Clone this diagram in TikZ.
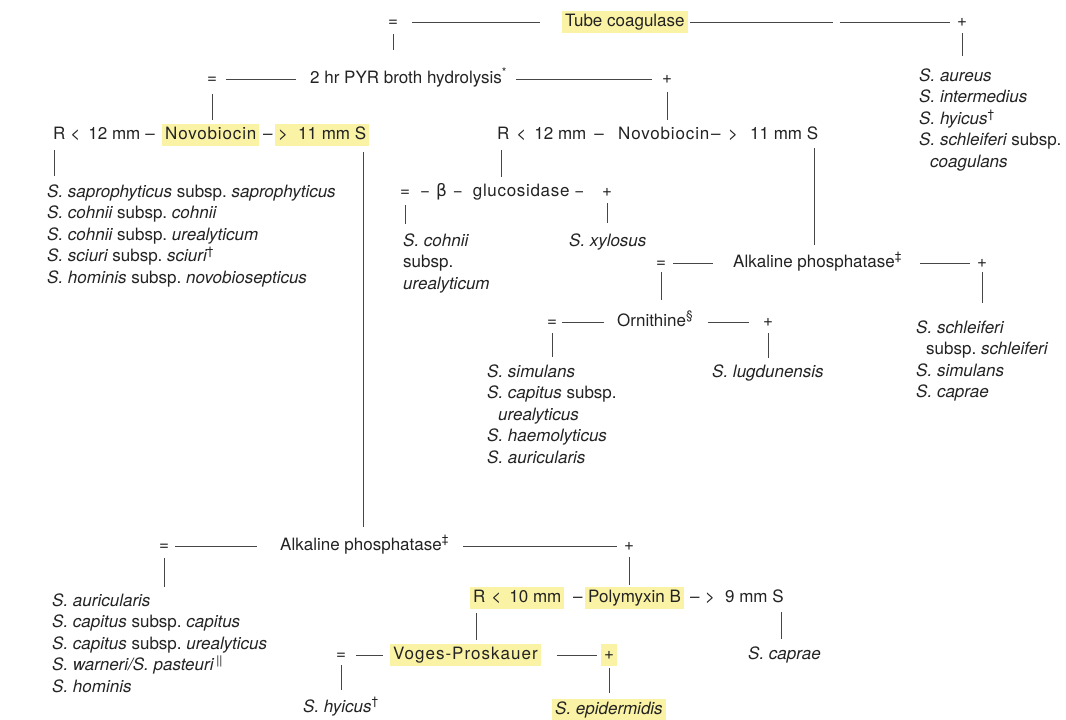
\documentclass[tikz,border=0pt]{standalone}
\usepackage{fontspec}
\setmainfont{TeX Gyre Heros}
\newfontfamily\dvs{DejaVu Sans}
\definecolor{ink}{RGB}{35,35,35}
\definecolor{rulec}{RGB}{70,70,70}
\definecolor{hly}{RGB}{250,242,165}
\newcommand\fs{\fontsize{17}{21.5}\selectfont}
\newcommand\ssp{{\upshape subsp.}}
\newcommand\fst{\rule{0pt}{13pt}}
\begin{document}
\begin{tikzpicture}[x=1pt,y=-1pt,
  every node/.style={inner sep=0pt, text=ink, font=\fs},
  lbl/.style={text height=12.5pt, text depth=4pt, anchor=west},
  itl/.style={lbl, font=\fs\itshape},
  sym/.style={text height=12.5pt, text depth=4pt, anchor=center},
  hl/.style={fill=hly, inner xsep=3pt, inner ysep=2.5pt},
  lst/.style={align=left, anchor=north west, font=\fs\itshape},
  cn/.style={draw=rulec, line width=0.75pt},
]
\fill[white] (0,0) rectangle (1066,720);
\useasboundingbox (0,0) rectangle (1066,720);

% ---- Row 1: Tube coagulase
\node[sym] (eq1) at (393,22) {=};
\node[lbl,hl] (tube) at (562,22) {Tube coagulase};
\node[sym] (plus1) at (962,22) {+};
\draw[cn, shorten <=14pt, shorten >=22pt] (eq1) -- (tube);
\draw[cn, shorten <=2pt, shorten >=7pt, dash pattern=on 143pt off 7pt on 300pt] (tube) -- (plus1);

% ---- Row 2: PYR
\node[sym] (eq2) at (212,79) {=};
\node[lbl] (pyr) at (310,79) {2 hr PYR broth hydrolysis\textsuperscript{*}};
\node[sym] (plus2) at (667,79) {+};
\draw[cn, shorten <=9pt, shorten >=14pt] (eq2) -- (pyr);
\draw[cn, shorten <=9pt, shorten >=10pt] (pyr) -- (plus2);

% ---- coagulase positive list
\node[lst] (aureus) at (919,68.25) {\fst S. aureus\\ S. intermedius\\ S. hyicus\textsuperscript{\upshape †}\\ S. schleiferi \ssp\\ \hspace*{11pt}coagulans};

% ---- Row 3 left: Novobiocin
\node[lbl] (nvLa) at (53,135) {R\hspace{5pt}<\hspace{8pt}12 mm\hspace{5pt}–};
\node[lbl,hl,font=\fs\addfontfeature{LetterSpace=5}] (nvLb) at (162,135) {Novobiocin};
\node[lbl] (nvLc) at (263,135) {–};
\node[lbl,hl] (nvLd) at (275,135) {>\hspace{10pt}11 mm S};

% ---- Row 3 right: Novobiocin
\node[lbl] (nvRa) at (497,135) {R\hspace{7pt}<\hspace{8pt}12 mm\hspace{8pt}–};
\node[lbl,font=\fs\addfontfeature{LetterSpace=5}] (nvRb) at (618,135) {Novobiocin};
\node[lbl] (nvRc) at (711,135) {–};
\node[lbl] (nvRd) at (728,135) {>\hspace{12pt}11 mm S};

% ---- left list
\node[lst] (listL) at (47,184.25) {\fst S. saprophyticus \ssp\ saprophyticus\\ S. cohnii \ssp\ cohnii\\ S. cohnii \ssp\ urealyticum\\ S. sciuri \ssp\ sciuri\textsuperscript{\upshape †}\\ S. hominis \ssp\ novobiosepticus};

% ---- beta-glucosidase
\node[sym] (eq3) at (405,192) {=};
\node[lbl] (beta) at (420,192) {−\hspace{6pt}{\dvs β}\hspace{6pt}−\hspace{10pt}{\addfontfeature{LetterSpace=4}glucosidase}\hspace{5pt}−};
\node[sym] (plus3) at (607,192) {+};
\node[lst] (cohnii) at (403,233.25) {\fst S. cohnii\\ \ssp\\ urealyticum};
\node[itl] (xylosus) at (569,242) {S. xylosus};

% ---- Alkaline phosphatase (right)
\node[sym] (eq4) at (661,263) {=};
\node[lbl] (alk4) at (733,263) {Alkaline phosphatase\textsuperscript{‡}};
\node[sym] (plus4) at (982,263) {+};
\draw[cn, shorten <=7pt, shorten >=20pt] (eq4) -- (alk4);
\draw[cn, shorten <=18pt, shorten >=7pt] (alk4) -- (plus4);
\node[lst] (schleif) at (916,320.25) {\fst S. schleiferi\\ \hspace*{10pt}\ssp\ schleiferi\\ S. simulans\\ S. caprae};

% ---- Ornithine
\node[sym] (eq5) at (552,322) {=};
\node[lbl] (orn) at (617,322) {Ornithine\textsuperscript{§}};
\node[sym] (plus5) at (768,322) {+};
\draw[cn, shorten <=5pt, shorten >=13pt] (eq5) -- (orn);
\draw[cn, shorten <=15pt, shorten >=14pt] (orn) -- (plus5);
\node[lst] (simul) at (487,364.25) {\fst S. simulans\\ S. capitus \ssp\\ \hspace*{11pt}urealyticus\\ S. haemolyticus\\ S. auricularis};
\node[itl] (lugd) at (712,373) {S. lugdunensis};

% ---- Alkaline phosphatase (bottom)
\node[sym] (eq6) at (164,546) {=};
\node[lbl] (alk6) at (280,546) {Alkaline phosphatase\textsuperscript{‡}};
\node[sym] (plus6) at (629,546) {+};
\draw[cn, shorten <=6pt, shorten >=23pt] (eq6) -- (alk6);
\draw[cn, shorten <=14pt, shorten >=7pt] (alk6) -- (plus6);
\node[lst] (auric) at (52,593.25) {\fst S. auricularis\\ S. capitus \ssp\ capitus\\ S. capitus \ssp\ urealyticus\\ S. warneri/S. pasteuri\,\textsuperscript{\upshape ||}\\ S. hominis};

% ---- Polymyxin B
\node[lbl,hl] (pma) at (470,598) {R\hspace{6pt}<\hspace{8pt}10 mm};
\node[lbl] (pmb) at (573,598) {–};
\node[lbl,hl] (pmc) at (585,598) {Polymyxin B};
\node[lbl] (pmd) at (690,598) {–};
\node[lbl] (pme) at (705,598) {>\hspace{10pt}9 mm S};
\node[itl] (caprae2) at (748,655) {S. caprae};

% ---- Voges-Proskauer
\node[sym] (eq7) at (341,655) {=};
\node[lbl,hl,font=\fs\addfontfeature{LetterSpace=6}] (vp) at (390,655) {Voges-Proskauer};
\node[sym,hl] (plus7) at (609,655) {+};
\draw[cn, shorten <=10pt, shorten >=7pt] (eq7) -- (vp);
\draw[cn, shorten <=16pt, shorten >=4pt] (vp) -- (plus7);
\node[itl] (hyicus2) at (303,708) {S. hyicus\textsuperscript{\upshape †}};
\node[itl,hl] (epi) at (552,710) {S. epidermidis};

% ---- vertical connectors
\draw[cn, shorten <=4pt, shorten >=20.75pt] (eq1.south) -- (eq1.south |- pyr.north);
\draw[cn, shorten <=3pt, shorten >=12pt] (plus1.south) -- (plus1.south |- aureus.north);
\draw[cn, shorten <=7pt, shorten >=4pt] (eq2.south) -- (eq2.south |- nvLb.north);
\draw[cn, shorten <=5pt, shorten >=7pt] (plus2.south) -- (plus2.south |- nvRb.north);

\coordinate (rL) at ([xshift=1.5pt]nvLa.south west);
\draw[cn, shorten <=7pt, shorten >=8pt] (rL) -- (rL |- listL.north);
\coordinate (sL) at ([xshift=-6pt]nvLd.south east);
\draw[cn, shorten <=6pt, shorten >=11pt] (sL) -- (sL |- alk6.north);
\coordinate (rR) at ([xshift=4pt]nvRa.south west);
\draw[cn, shorten <=7pt, shorten >=7pt] (rR) -- (rR |- beta.north);
\coordinate (sR) at ([xshift=-4pt]nvRd.south east);
\draw[cn, shorten <=5pt, shorten >=10pt] (sR) -- (sR |- alk4.north);

\draw[cn, shorten <=5pt, shorten >=9pt] (eq3.south) -- (eq3.south |- cohnii.north);
\draw[cn, shorten <=3pt, shorten >=11pt] (plus3.south) -- (plus3.south |- xylosus.north);
\draw[cn, shorten <=1pt, shorten >=14pt] (eq4.south) -- (eq4.south |- orn.north);
\draw[cn, shorten <=1pt, shorten >=17pt] (plus4.south) -- (plus4.south |- schleif.north);
\draw[cn, shorten <=3pt, shorten >=7pt] (eq5.south) -- (eq5.south |- simul.north);
\draw[cn, shorten <=3pt, shorten >=7pt] (plus5.south) -- (plus5.south |- lugd.north);
\draw[cn, shorten <=4pt, shorten >=6pt] (eq6.south) -- (eq6.south |- auric.north);
\draw[cn, shorten <=3pt, shorten >=2pt] (plus6.south) -- (plus6.south |- pmc.north);

\coordinate (rP) at ([xshift=6pt]pma.south west);
\draw[cn, shorten <=4pt, shorten >=4pt] (rP) -- (rP |- vp.north);
\coordinate (sP) at ([xshift=-3pt]pme.south east);
\draw[cn, shorten <=6pt, shorten >=8pt] (sP) -- (sP |- caprae2.north);
\draw[cn, shorten <=2pt, shorten >=10pt] (eq7.south) -- (eq7.south |- hyicus2.north);
\draw[cn, shorten <=2pt, shorten >=6pt] (plus7.south) -- (plus7.south |- epi.north);
\end{tikzpicture}
\end{document}
